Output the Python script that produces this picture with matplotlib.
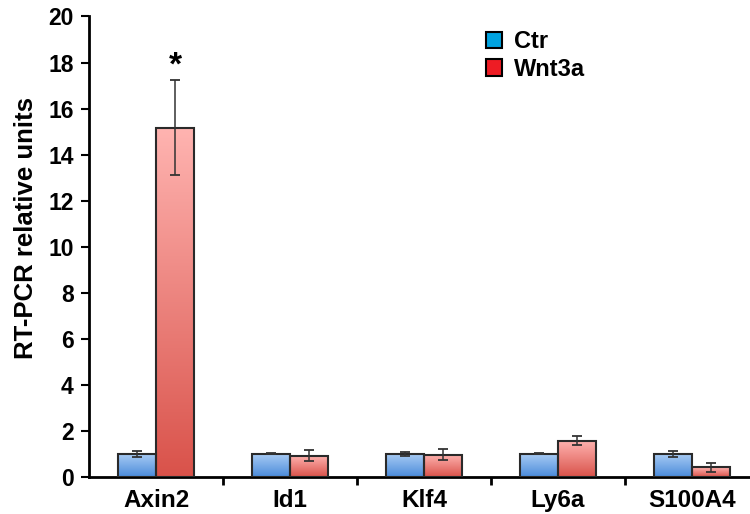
import numpy as np
import matplotlib
matplotlib.use('Agg')
import matplotlib.pyplot as plt
from matplotlib.colors import LinearSegmentedColormap
from matplotlib.patches import Patch

genes = ['Axin2', 'Id1', 'Klf4', 'Ly6a', 'S100A4']
ctr = [1.0, 1.0, 1.0, 1.0, 1.0]
ctr_err = [0.13, 0.02, 0.08, 0.02, 0.13]
wnt = [15.17, 0.92, 0.96, 1.57, 0.41]
wnt_err = [2.08, 0.24, 0.24, 0.20, 0.19]

plt.rcParams['font.family'] = ['Liberation Sans', 'DejaVu Sans']
plt.rcParams['font.weight'] = 'bold'

fig = plt.figure(figsize=(7.5, 5.14), dpi=100)
ax = fig.add_axes([0.1187, 0.0726, 0.8933, 0.8953])

x = np.arange(len(genes))
w = 0.283

blue_cm = LinearSegmentedColormap.from_list('b', ['#4a8bdb', '#abcdf4'])
red_cm = LinearSegmentedColormap.from_list('r', ['#d9524a', '#ffb4b1'])
grad = np.linspace(0, 1, 256).reshape(-1, 1)


def gradient_bars(xs, vals, errs, cmap):
    bars = ax.bar(xs, vals, w, facecolor='none', edgecolor='#2a2a2a', linewidth=1.5, zorder=3)
    for b in bars:
        x0, y0 = b.get_x(), b.get_y()
        im = ax.imshow(grad, extent=[x0, x0 + b.get_width(), y0, y0 + b.get_height()],
                       origin='lower', cmap=cmap, aspect='auto', zorder=2)
        im.set_clip_path(b)
    ax.errorbar(xs, vals, yerr=errs, fmt='none', ecolor='#333333', elinewidth=1.1,
                capsize=3.5, capthick=1.3, zorder=4)


gradient_bars(x - w / 2, ctr, ctr_err, blue_cm)
gradient_bars(x + w / 2, wnt, wnt_err, red_cm)

ax.text(x[0] + w / 2, 17.85, '*', ha='center', va='center', fontsize=24, fontweight='bold')

ax.set_xlim(-0.5, 4.5)
ax.set_ylim(0, 20)
ax.set_yticks(np.arange(0, 21, 2))
ax.set_xticks(x)
ax.set_xticklabels(genes)
ax.set_xticks(np.arange(0.5, 4.5, 1), minor=True)
ax.tick_params(axis='x', which='major', length=0, labelsize=17.5, pad=9)
ax.tick_params(axis='x', which='minor', length=6, width=2, direction='out')
ax.tick_params(axis='y', length=6, width=1.5, labelsize=16.5, pad=5)
for lab in ax.get_xticklabels() + ax.get_yticklabels():
    lab.set_fontweight('bold')
ax.set_ylabel('RT-PCR relative units', fontsize=18.5, fontweight='bold')
ax.yaxis.set_label_coords(-0.076, 0.54)

for s in ['top', 'right']:
    ax.spines[s].set_visible(False)
ax.spines['left'].set_linewidth(2)
ax.spines['bottom'].set_linewidth(2)

handles = [Patch(facecolor='#00a3e0', edgecolor='black', linewidth=1.5, label='Ctr'),
           Patch(facecolor='#ee1c24', edgecolor='black', linewidth=1.5, label='Wnt3a')]
fig.legend(handles=handles, loc='upper left', bbox_to_anchor=(486 / 750, 1 - 30 / 514),
           frameon=False, borderpad=0, borderaxespad=0,
           handlelength=0.68, handleheight=0.68, handletextpad=0.5, labelspacing=0.2,
           prop={'size': 17, 'weight': 'bold'})

fig.savefig('out.png', dpi=100)
